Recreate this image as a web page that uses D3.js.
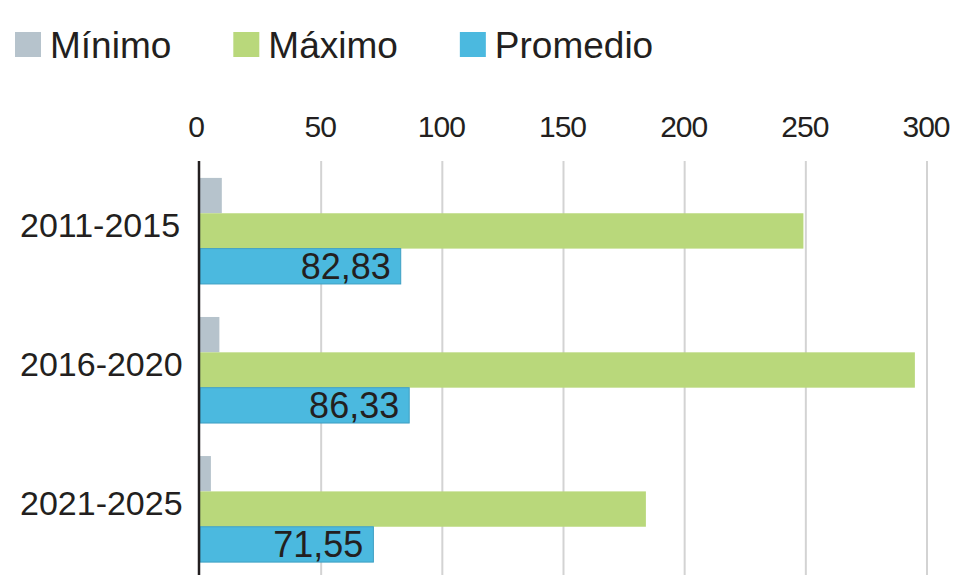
<!DOCTYPE html>
<html>
<head>
<meta charset="utf-8">
<script src="https://cdn.jsdelivr.net/npm/d3@7"></script>
<style>
  body { margin: 0; background: #fff; }
  svg text { font-family: "Liberation Sans", Arial, sans-serif; fill: #231f20; }
</style>
</head>
<body>
<div id="chart"><svg></svg></div>
<script>
const categories = ["2011-2015", "2016-2020", "2021-2025"];
const seriesNames = ["Mínimo", "Máximo", "Promedio"];
const minimo = [9, 8, 4.5];
const maximo = [249, 295, 184];
const promedio = [82.83, 86.33, 71.55];
const ticks = [0, 50, 100, 150, 200, 250, 300];

const colors = { "Mínimo": "#b6c3cc", "Máximo": "#b9d87b", "Promedio": "#4bb9df" };
const strokes = { "Mínimo": "none", "Máximo": "none", "Promedio": "#3e9fc3" };

const width = 954, height = 575;
const svg = d3.select("#chart svg")
    .attr("width", width)
    .attr("height", height);

const data = categories.map((c, i) => ({
    category: c,
    values: [
        { key: "Mínimo", value: minimo[i] },
        { key: "Máximo", value: maximo[i] },
        { key: "Promedio", value: promedio[i] }
    ]
}));

const x = d3.scaleLinear()
    .domain([0, 300])
    .range([200, 927]);

const y0 = d3.scaleBand()
    .domain(categories)
    .range([164, 576])
    .paddingInner(0.2374)
    .paddingOuter(0.1);

const y1 = d3.scaleBand()
    .domain(seriesNames)
    .range([0, y0.bandwidth()]);

// grid lines
svg.append("g")
    .selectAll("line")
    .data(ticks.filter(t => t > 0))
    .enter().append("line")
    .attr("x1", d => x(d))
    .attr("x2", d => x(d))
    .attr("y1", 161)
    .attr("y2", height)
    .style("stroke", "#d3d3d3")
    .style("stroke-width", 2);

// tick labels
svg.append("g")
    .selectAll("text")
    .data(ticks)
    .enter().append("text")
    .attr("x", d => x(d) - (d === 0 ? 4 : 1))
    .attr("y", 137)
    .style("text-anchor", "middle")
    .style("font-size", "30px")
    .style("letter-spacing", "-1px")
    .text(d => d);

// bars
const groups = svg.selectAll(".group")
    .data(data)
    .enter().append("g")
    .attr("class", "group")
    .attr("transform", d => `translate(0,${y0(d.category)})`);

groups.selectAll("rect")
    .data(d => d.values)
    .enter().append("rect")
    .attr("x", x(0))
    .attr("y", d => y1(d.key))
    .attr("width", d => x(d.value) - x(0))
    .attr("height", y1.bandwidth())
    .style("fill", d => colors[d.key])
    .style("stroke", d => strokes[d.key])
    .style("stroke-width", 1);

// value labels on Promedio
const fmt = v => d3.format(".2f")(v).replace(".", ",");
groups.append("text")
    .attr("x", d => x(d.values[2].value) - 10)
    .attr("y", y1("Promedio") + y1.bandwidth() / 2 + 13)
    .style("text-anchor", "end")
    .style("font-size", "36px")
    .text(d => fmt(d.values[2].value));

// category labels
groups.append("text")
    .attr("x", 20)
    .attr("y", y0.bandwidth() / 2 + 6)
    .style("font-size", "34px")
    .text(d => d.category);

// zero axis line
svg.append("line")
    .attr("x1", x(0) - 1)
    .attr("x2", x(0) - 1)
    .attr("y1", 161)
    .attr("y2", height)
    .style("stroke", "#231f20")
    .style("stroke-width", 2.5);

// legend
const legend = svg.append("g").attr("class", "legend");
let lx = 15;
seriesNames.forEach(name => {
    const item = legend.append("g").attr("transform", `translate(${lx},0)`);
    item.append("rect")
        .attr("x", 0)
        .attr("y", 32)
        .attr("width", 26)
        .attr("height", 25)
        .style("fill", colors[name]);
    const t = item.append("text")
        .attr("x", 35)
        .attr("y", 58)
        .style("font-size", "37px")
        .text(name);
    lx += 35 + t.node().getComputedTextLength() + 62;
});
</script>
</body>
</html>
